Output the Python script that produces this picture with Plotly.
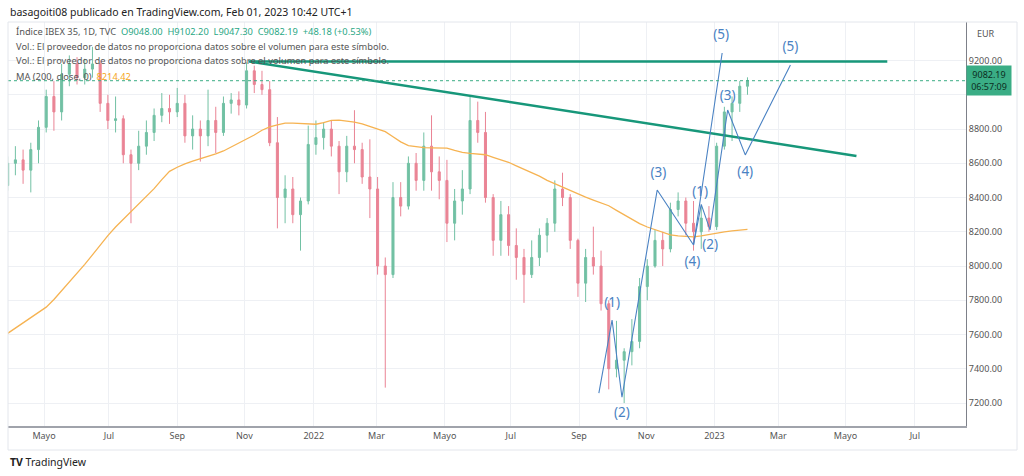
import plotly.graph_objects as go
import pandas as pd

# ---------------- data (weekly candles) ----------------
week_start = "2021-03-31"
opens = [8470, 8600, 8620, 8560, 8680, 8810, 8990, 8900, 9120, 9180,
         9100, 9150, 9180, 8950, 8850, 8860, 8650, 8600, 8700, 8780,
         8880, 8920, 8900, 8950, 8760, 8800, 8760, 8850, 8780, 8950,
         8970, 8940, 9140, 9060, 9030, 8720, 8400, 8450, 8300, 8380,
         8710, 8750, 8800, 8700, 8550, 8700, 8680, 8520, 8450, 8000,
         7950, 8400, 8350, 8600, 8500, 8700, 8550, 8500, 8250, 8380,
         8450, 8850, 8780, 8400, 8150, 8300, 8120, 8050, 7950, 8050,
         8180, 8250, 8450, 8400, 8150, 7900, 8050, 8000, 7780, 7400,
         7450, 7500, 7560, 7880, 8000, 8150, 8100, 8330, 8380, 8250,
         8200, 8280, 8230, 8700, 8900, 8950, 9050]
highs = [8640, 8700, 8680, 8720, 8850, 9030, 9080, 9180, 9230, 9220,
         9210, 9280, 9200, 9000, 8990, 8880, 8680, 8790, 8850, 8920,
         9010, 9000, 9040, 9000, 8880, 8850, 9030, 8930, 8990, 9010,
         9020, 9190, 9170, 9140, 9080, 8870, 8530, 8520, 8400, 8820,
         8850, 8840, 8850, 8730, 8760, 8910, 8720, 8740, 8520, 8050,
         8490, 8490, 8640, 8660, 8780, 8880, 8640, 8620, 8450, 8560,
         8990, 8960, 8900, 8420, 8380, 8350, 8220, 8100, 8150, 8220,
         8280, 8500, 8545, 8420, 8160, 8100, 8230, 8090, 7800, 7680,
         7520, 7690, 7930, 8040, 8210, 8200, 8370, 8430, 8400, 8380,
         8350, 8350, 8720, 8930, 8990, 9080, 9102]
lows = [8440, 8530, 8480, 8430, 8600, 8780, 8790, 8850, 9050, 9060,
        9060, 9100, 8900, 8800, 8780, 8600, 8250, 8560, 8650, 8730,
        8840, 8830, 8870, 8720, 8680, 8610, 8700, 8660, 8760, 8890,
        8880, 8920, 9010, 9000, 8700, 8220, 8250, 8250, 8090, 8360,
        8650, 8680, 8640, 8420, 8490, 8600, 8480, 8280, 7950, 7290,
        7930, 8290, 8330, 8440, 8440, 8440, 8390, 8140, 8150, 8300,
        8420, 8720, 8370, 8060, 8060, 8060, 7920, 7785, 7930, 8000,
        8080, 8200, 8350, 8100, 7820, 7790, 7950, 7740, 7280, 7350,
        7200, 7420, 7520, 7800, 7990, 8000, 8080, 8290, 8180, 8090,
        8100, 8200, 8210, 8680, 8730, 8900, 9000]
closes = [8600, 8620, 8560, 8680, 8810, 8990, 8900, 9120, 9180, 9100,
          9150, 9180, 8950, 8850, 8860, 8650, 8600, 8700, 8780, 8880,
          8920, 8900, 8950, 8760, 8800, 8760, 8850, 8780, 8950, 8970,
          8940, 9140, 9060, 9030, 8720, 8400, 8450, 8300, 8380, 8710,
          8750, 8800, 8700, 8550, 8700, 8680, 8520, 8450, 8000, 7950,
          8400, 8350, 8600, 8500, 8700, 8550, 8500, 8250, 8380, 8450,
          8850, 8780, 8400, 8150, 8300, 8120, 8050, 7950, 8050, 8180,
          8250, 8450, 8400, 8150, 7900, 8050, 8000, 7780, 7400, 7450,
          7500, 7560, 7880, 8000, 8150, 8100, 8330, 8380, 8250, 8200,
          8280, 8230, 8700, 8900, 8950, 9050, 9082.19]
ma200 = [7607, 7637, 7667, 7697, 7728, 7760, 7805, 7855, 7905, 7957,
         8010, 8065, 8122, 8178, 8228, 8272, 8315, 8358, 8402, 8452,
         8505, 8553, 8577, 8597, 8612, 8625, 8640, 8655, 8672, 8695,
         8718, 8740, 8765, 8793, 8812, 8825, 8835, 8835, 8832, 8828,
         8828, 8838, 8850, 8852, 8848, 8840, 8830, 8815, 8803, 8785,
         8755, 8725, 8703, 8697, 8691, 8690, 8690, 8688, 8675, 8664,
         8658, 8654, 8650, 8635, 8620, 8606, 8585, 8565, 8545, 8525,
         8500, 8480, 8462, 8440, 8422, 8402, 8385, 8370, 8352, 8325,
         8298, 8272, 8248, 8228, 8212, 8196, 8182, 8176, 8172, 8170,
         8176, 8185, 8193, 8199, 8205, 8211, 8214.42]

# trend lines
hline_x = ["2021-11-05", "2023-06-08"]
hline_y = [9194, 9194]
dline_x = ["2021-11-06", "2023-05-11"]
dline_y = [9194, 8643]

# Elliott wave drawings
wave1_x = ["2022-09-19", "2022-10-01", "2022-10-10", "2022-11-11", "2022-12-14", "2023-01-09"]
wave1_y = [7258, 7685, 7234, 8444, 8123, 9244]
wave2_x = ["2022-12-14", "2022-12-21", "2022-12-29", "2023-01-14", "2023-01-30", "2023-03-12"]
wave2_y = [8123, 8360, 8211, 8911, 8649, 9174]
wave_lbl = ["(1)", "(2)", "(3)", "(4)", "(5)", "(1)", "(2)", "(3)", "(4)", "(5)"]
wave_lbl_x = ["2022-10-01", "2022-10-10", "2022-11-12", "2022-12-13", "2023-01-08",
              "2022-12-20", "2022-12-29", "2023-01-14", "2023-01-30", "2023-03-12"]
wave_lbl_y = [7778, 7136, 8538, 8018, 9344, 8426, 8117, 8987, 8543, 9273]

tick_dates = ["2021-05-03", "2021-07-01", "2021-09-01", "2021-11-01", "2022-01-03",
              "2022-03-01", "2022-05-02", "2022-07-01", "2022-09-01", "2022-11-01",
              "2023-01-02", "2023-03-01", "2023-05-01", "2023-07-03"]
tick_text = ["Mayo", "Jul", "Sep", "Nov", "2022", "Mar", "Mayo", "Jul", "Sep", "Nov",
             "2023", "Mar", "Mayo", "Jul"]
price_ticks = [7200, 7400, 7600, 7800, 8000, 8200, 8400, 8600, 8800, 9000, 9200]
last_price = 9082.19

# ---------------- figure ----------------
dates = pd.date_range(week_start, periods=len(closes), freq="7D")
UP = "#72c1a4"
DN = "#ea8495"
TEAL = "#17977a"
BLUE = "#4a82c3"
FONT = "Noto Sans"

fig = go.Figure()
fig.add_trace(go.Candlestick(
    x=dates, open=opens, high=highs, low=lows, close=closes,
    increasing=dict(line=dict(color=UP, width=1), fillcolor=UP),
    decreasing=dict(line=dict(color=DN, width=1), fillcolor=DN),
    whiskerwidth=0, showlegend=False, hoverinfo="skip"))
fig.add_trace(go.Scatter(x=dates, y=ma200, mode="lines",
                         line=dict(color="#f6b352", width=1.3), showlegend=False, hoverinfo="skip"))
for xs, ys in [(hline_x, hline_y), (dline_x, dline_y)]:
    fig.add_trace(go.Scatter(x=xs, y=ys, mode="lines", line=dict(color=TEAL, width=2.6),
                             showlegend=False, hoverinfo="skip"))
for xs, ys in [(wave1_x, wave1_y), (wave2_x, wave2_y)]:
    fig.add_trace(go.Scatter(x=xs, y=ys, mode="lines", line=dict(color=BLUE, width=1.1),
                             showlegend=False, hoverinfo="skip"))
fig.add_trace(go.Scatter(x=wave_lbl_x, y=wave_lbl_y, mode="text", text=wave_lbl,
                         textfont=dict(family=FONT, size=13.5, color=BLUE),
                         showlegend=False, hoverinfo="skip"))

L, R, T, B = 8, 58, 22, 50
PW, PH = 1024 - L - R, 476 - T - B

def px(xp):
    return (xp - L) / PW

def py(yp):
    return (476 - B - yp) / PH

HF = 9.3
ann = []
ann.append(dict(x=px(8), y=py(12), xref="paper", yref="paper", xanchor="left", yanchor="middle",
                text="basagoiti08 publicado en TradingView.com, Feb 01, 2023 10:42 UTC+1",
                showarrow=False, font=dict(family=FONT, size=10.5, color="#222")))
ann.append(dict(x=px(14), y=py(31), xref="paper", yref="paper", xanchor="left", yanchor="middle",
                text="Índice IBEX 35, 1D, TVC  <span style='color:#2aa785'>O9048.00  H9102.20  L9047.30  C9082.19  +48.18 (+0.53%)</span>",
                showarrow=False, font=dict(family=FONT, size=HF, color="#555")))
vol = "Vol.: El proveedor de datos no proporciona datos sobre el volumen para este símbolo."
ann.append(dict(x=px(14), y=py(46), xref="paper", yref="paper", xanchor="left", yanchor="middle",
                text=vol, showarrow=False, font=dict(family=FONT, size=HF, color="#555")))
ann.append(dict(x=px(14), y=py(61), xref="paper", yref="paper", xanchor="left", yanchor="middle",
                text=vol, showarrow=False, font=dict(family=FONT, size=HF, color="#555")))
ann.append(dict(x=px(14), y=py(76), xref="paper", yref="paper", xanchor="left", yanchor="middle",
                text="MA (200, close, 0)  <span style='color:#f5a623'>8214.42</span>",
                showarrow=False, font=dict(family=FONT, size=HF, color="#555")))
ann.append(dict(x=px(975), y=py(33), xref="paper", yref="paper", xanchor="left", yanchor="middle",
                text="EUR", showarrow=False, font=dict(family=FONT, size=9, color="#555")))
ann.append(dict(x=px(989), y=last_price, xref="paper", yref="y", xanchor="center", yanchor="middle",
                text="9082.19<br>06:57:09", showarrow=False, bgcolor="#3aad85",
                font=dict(family=FONT, size=9, color="#0c2e22"), borderpad=2, width=40))
ann.append(dict(x=px(8), y=py(462), xref="paper", yref="paper", xanchor="left", yanchor="middle",
                text="<b>TV</b> TradingView", showarrow=False,
                font=dict(family=FONT, size=10.5, color="#222")))

shapes = [
    dict(type="line", xref="paper", yref="y", x0=0, x1=1, y0=last_price, y1=last_price,
         line=dict(color="#3aad85", width=1, dash="dot")),
    dict(type="rect", xref="paper", yref="paper", x0=0, x1=px(1017), y0=py(450), y1=1,
         line=dict(color="#e3e6ec", width=1)),
]

fig.update_layout(
    width=1024, height=476,
    margin=dict(l=L, r=R, t=T, b=B),
    paper_bgcolor="white", plot_bgcolor="white",
    boxgap=0.62,
    showlegend=False,
    annotations=ann, shapes=shapes,
    font=dict(family=FONT),
    xaxis=dict(type="date", range=["2021-03-31 07:00", "2023-08-18 12:00"],
               tickvals=tick_dates, ticktext=tick_text, showgrid=True, gridcolor="#eef0f4",
               showline=True, linecolor="#a0a3ab", linewidth=2, ticks="",
               tickfont=dict(family=FONT, size=9, color="#555"),
               rangeslider=dict(visible=False), zeroline=False),
    yaxis=dict(side="right", range=[7066, 9425], tickvals=price_ticks,
               ticktext=["%.2f" % v if v != 9000 else "" for v in price_ticks],
               showgrid=True, gridcolor="#eef0f4", showline=True, linecolor="#7d8089",
               linewidth=1, ticks="", tickfont=dict(family=FONT, size=9, color="#555"),
               zeroline=False),
)

fig.write_html("out.html", config={"displayModeBar": False},
               post_script="document.body.style.margin='0px';")
